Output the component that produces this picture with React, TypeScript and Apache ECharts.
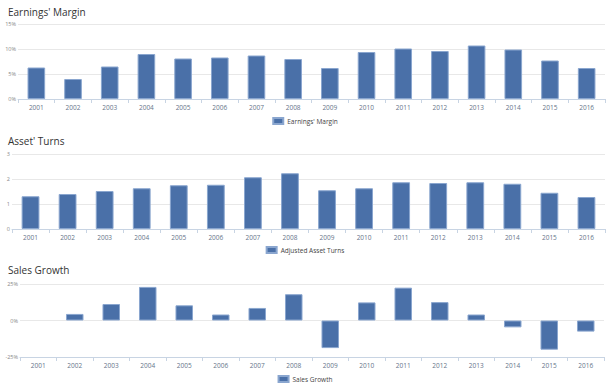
import React, { useEffect, useRef } from "react";
import * as echarts from "echarts";

const years = ["2001","2002","2003","2004","2005","2006","2007","2008","2009","2010","2011","2012","2013","2014","2015","2016"];
const earningsMargin = [6.3, 4.0, 6.5, 9.0, 8.1, 8.3, 8.7, 8.0, 6.2, 9.4, 10.1, 9.6, 10.7, 9.9, 7.7, 6.2];
const assetTurns = [1.31, 1.40, 1.52, 1.63, 1.75, 1.77, 2.07, 2.23, 1.55, 1.63, 1.87, 1.84, 1.87, 1.81, 1.45, 1.28];
const salesGrowth: (number | null)[] = [null, 4.5, 11.3, 23.0, 10.4, 4.1, 8.6, 18.0, -18.9, 12.4, 22.5, 12.6, 4.1, -4.7, -20.0, -7.6];

const titles = ["Earnings' Margin", "Asset' Turns", "Sales Growth"];
const seriesNames = ["Earnings' Margin", "Adjusted Asset Turns", "Sales Growth"];

const FONT = "'Open Sans', 'Noto Sans', sans-serif";
const BAR = "#4a70a8";
const BORDER = "#8aa6cf";
const AXIS = "#c8d4e3";
const GRID = "#e8e8e8";
const LABEL = "#66758a";

export default function App() {
  const ref = useRef<HTMLDivElement>(null);
  useEffect(() => {
    if (!ref.current) return;
    const chart = echarts.init(ref.current, null, { renderer: "svg" });
    const grids = [
      { left: 18, right: 5, top: 24, height: 75 },
      { left: 12, right: 5, top: 154, height: 75 },
      { left: 20, right: 6, top: 284, height: 73 },
    ];
    const titleTops = [2, 131, 260];
    const legendTops = [117, 246, 375];
    const yDefs = [
      { min: 0, max: 15, interval: 5, fmt: "{value}%" },
      { min: 0, max: 3, interval: 1, fmt: "{value}" },
      { min: -25, max: 25, interval: 25, fmt: "{value}%" },
    ];
    const data = [earningsMargin, assetTurns, salesGrowth];

    chart.setOption({
      animation: false,
      backgroundColor: "#ffffff",
      title: titles.map((t, i) => ({
        text: t,
        left: 3,
        top: titleTops[i],
        textStyle: { fontFamily: FONT, fontSize: 10, fontWeight: "normal", color: "#333333" },
      })),
      legend: seriesNames.map((n, i) => ({
        data: [n],
        left: "center",
        top: legendTops[i],
        itemWidth: 10,
        itemHeight: 6,
        itemGap: 4,
        icon: "rect",
        textStyle: { fontFamily: FONT, fontSize: 6.5, color: "#444444", padding: [0, 0, 0, -1] },
        padding: 0,
      })),
      grid: grids.map((g) => ({ ...g, containLabel: false })),
      xAxis: [0, 1, 2].map((i) => ({
        type: "category",
        gridIndex: i,
        data: years,
        boundaryGap: true,
        axisLine: { show: true, onZero: false, lineStyle: { color: AXIS, width: 1 } },
        axisTick: { show: true, alignWithLabel: false, length: 4, lineStyle: { color: AXIS } },
        axisLabel: { fontFamily: FONT, fontSize: 6.5, color: LABEL, margin: 5 },
        splitLine: { show: false },
      })),
      yAxis: yDefs.map((y, i) => ({
        type: "value",
        gridIndex: i,
        min: y.min,
        max: y.max,
        interval: y.interval,
        axisLine: { show: false },
        axisTick: { show: false },
        axisLabel: { fontFamily: FONT, fontSize: 5.5, color: "#888888", margin: 2, formatter: y.fmt },
        splitLine: { show: true, lineStyle: { color: GRID, width: 1 } },
      })),
      series: data.map((d, i) => ({
        type: "bar",
        name: seriesNames[i],
        xAxisIndex: i,
        yAxisIndex: i,
        data: d,
        barWidth: "48%",
        itemStyle: { color: BAR, borderColor: BORDER, borderWidth: 1 },
      })),
    });
    return () => chart.dispose();
  }, []);
  return <div ref={ref} style={{ width: 610, height: 388, position: "absolute", left: 0, top: 0 }} />;
}
